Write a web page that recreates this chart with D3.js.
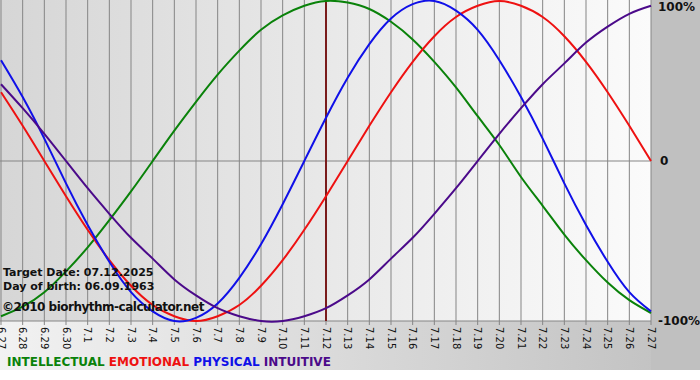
<!DOCTYPE html>
<html>
<head>
<meta charset="utf-8">
<script src="https://cdn.jsdelivr.net/npm/d3@7"></script>
<style>
  html, body { margin: 0; padding: 0; background: #fff; }
  svg { display: block; font-family: "DejaVu Sans", Verdana, sans-serif; }
</style>
</head>
<body>
<svg id="chart" width="700" height="380"></svg>
<script>
// ── Data ────────────────────────────────────────────────────────────────
const DAYS = ['6.27', '6.28', '6.29', '6.30', '7.1', '7.2', '7.3', '7.4', '7.5', '7.6',
  '7.7', '7.8', '7.9', '7.10', '7.11', '7.12', '7.13', '7.14', '7.15', '7.16',
  '7.17', '7.18', '7.19', '7.20', '7.21', '7.22', '7.23', '7.24', '7.25', '7.26', '7.27'];
const TARGET_DAY = '7.12';

const INTELLECTUAL = [-0.97, -0.91, -0.82, -0.69, -0.54, -0.37, -0.19, 0, 0.19, 0.37,
  0.54, 0.69, 0.82, 0.91, 0.97, 1.00, 0.99, 0.95, 0.87, 0.76,
  0.62, 0.46, 0.28, 0.10, -0.10, -0.28, -0.46, -0.62, -0.76, -0.87, -0.95];
const EMOTIONAL = [0.43, 0.22, 0, -0.22, -0.43, -0.62, -0.78, -0.90, -0.97, -1.00,
  -0.97, -0.90, -0.78, -0.62, -0.43, -0.22, 0, 0.22, 0.43, 0.62,
  0.78, 0.90, 0.97, 1.00, 0.97, 0.90, 0.78, 0.62, 0.43, 0.22, 0];
const PHYSICAL = [0.63, 0.40, 0.14, -0.14, -0.40, -0.63, -0.82, -0.94, -1.00, -0.98,
  -0.89, -0.73, -0.52, -0.27, 0, 0.27, 0.52, 0.73, 0.89, 0.98,
  1.00, 0.94, 0.82, 0.63, 0.40, 0.14, -0.14, -0.40, -0.63, -0.82, -0.94];
const INTUITIVE = [0.48, 0.33, 0.17, 0, -0.17, -0.33, -0.48, -0.61, -0.74, -0.84,
  -0.92, -0.97, -1.00, -1.00, -0.97, -0.92, -0.84, -0.74, -0.61, -0.48,
  -0.33, -0.17, 0, 0.17, 0.33, 0.48, 0.61, 0.74, 0.84, 0.92, 0.97];

const SERIES = [
  { name: 'INTELLECTUAL', values: INTELLECTUAL, color: '#0a820a' },
  { name: 'EMOTIONAL',    values: EMOTIONAL,    color: '#ee1111' },
  { name: 'PHYSICAL',     values: PHYSICAL,     color: '#1010e8' },
  { name: 'INTUITIVE',    values: INTUITIVE,    color: '#4b0a8a' },
];

const Y_TICKS = [1, 0, -1];
const Y_LABELS = ['100%', '0', '-100%'];

const INFO_LINES = ['Target Date: 07.12.2025', 'Day of birth: 06.09.1963'];
const COPYRIGHT = '©2010 biorhythm-calculator.net';

// ── Layout ──────────────────────────────────────────────────────────────
const W = 700, H = 380;
const plot = { left: 1, right: 651, top: 1, bottom: 321 };

const svg = d3.select('#chart');
const defs = svg.append('defs');

const plotGrad = defs.append('linearGradient').attr('id', 'plot-grad')
  .attr('x1', '0%').attr('x2', '100%').attr('y1', '0%').attr('y2', '0%');
plotGrad.append('stop').attr('offset', '0%').attr('stop-color', '#d6d6d6');
plotGrad.append('stop').attr('offset', '100%').attr('stop-color', '#fbfbfb');

const footGrad = defs.append('linearGradient').attr('id', 'foot-grad')
  .attr('x1', '0%').attr('x2', '100%').attr('y1', '0%').attr('y2', '0%');
footGrad.append('stop').attr('offset', '0%').attr('stop-color', '#f2f2f2');
footGrad.append('stop').attr('offset', '100%').attr('stop-color', '#c0c0c0');

// background pieces
svg.append('rect').attr('x', 0).attr('y', 0).attr('width', W).attr('height', H).attr('fill', '#ffffff');
svg.append('rect').attr('x', 0).attr('y', plot.bottom).attr('width', W).attr('height', 370 - plot.bottom)
  .attr('fill', 'url(#foot-grad)');
svg.append('rect').attr('x', plot.right).attr('y', 0).attr('width', W - plot.right).attr('height', 370)
  .attr('fill', '#c0c0c0');
svg.append('rect').attr('x', 0).attr('y', 0).attr('width', plot.right).attr('height', plot.bottom)
  .attr('fill', 'url(#plot-grad)');

// ── Scales ──────────────────────────────────────────────────────────────
const x = d3.scalePoint().domain(DAYS).range([plot.left, plot.right]);
const y = d3.scaleLinear().domain([-1, 1]).range([plot.bottom, plot.top]);

// vertical grid + ticks
svg.append('g').selectAll('line').data(DAYS).join('line')
  .attr('x1', d => x(d)).attr('x2', d => x(d))
  .attr('y1', 0).attr('y2', plot.bottom + 4)
  .attr('stroke', '#858585').attr('stroke-width', 1);

// zero line and bottom border
svg.append('line')
  .attr('x1', 0).attr('x2', plot.right)
  .attr('y1', y(0)).attr('y2', y(0))
  .attr('stroke', '#858585');
svg.append('line')
  .attr('x1', 0).attr('x2', plot.right)
  .attr('y1', plot.bottom).attr('y2', plot.bottom)
  .attr('stroke', '#858585');

// target day marker
svg.append('line')
  .attr('x1', x(TARGET_DAY)).attr('x2', x(TARGET_DAY))
  .attr('y1', 0).attr('y2', plot.bottom)
  .attr('stroke', '#7a1c1c').attr('stroke-width', 2);

// x labels, rotated
svg.append('g').selectAll('text').data(DAYS).join('text')
  .attr('transform', d => `translate(${x(d) - 3.5},${plot.bottom + 6}) rotate(90)`)
  .attr('font-size', 10)
  .attr('fill', '#111')
  .text(d => d);

// y labels
svg.append('g').selectAll('text').data(Y_TICKS).join('text')
  .attr('x', (d, i) => i === 1 ? 660 : 658)
  .attr('y', d => d === 1 ? 7 : y(d))
  .attr('dominant-baseline', 'middle')
  .attr('font-size', 12).attr('font-weight', 'bold')
  .attr('fill', '#111')
  .text((d, i) => Y_LABELS[i]);

// ── Curves ──────────────────────────────────────────────────────────────
const line = d3.line()
  .x((v, i) => x(DAYS[i]))
  .y(v => y(v))
  .curve(d3.curveNatural);

svg.append('g').selectAll('path').data(SERIES).join('path')
  .attr('d', s => line(s.values))
  .attr('fill', 'none')
  .attr('stroke', s => s.color)
  .attr('stroke-width', 2);

// ── Info text ───────────────────────────────────────────────────────────
INFO_LINES.forEach((t, i) => {
  svg.append('text')
    .attr('x', 3).attr('y', 276 + i * 14)
    .attr('font-size', 11).attr('font-weight', 'bold')
    .attr('fill', '#111')
    .text(t);
});
svg.append('text')
  .attr('x', 2).attr('y', 311)
  .attr('font-size', 12).attr('font-weight', 'bold')
  .attr('letter-spacing', -0.5)
  .attr('fill', '#111')
  .text(COPYRIGHT);

// ── Legend ──────────────────────────────────────────────────────────────
const legend = svg.append('text')
  .attr('x', 7).attr('y', 366)
  .attr('font-size', 12).attr('font-weight', 'bold');
SERIES.forEach((s, i) => {
  legend.append('tspan')
    .attr('fill', s.color)
    .text((i ? ' ' : '') + s.name);
});
</script>
</body>
</html>
